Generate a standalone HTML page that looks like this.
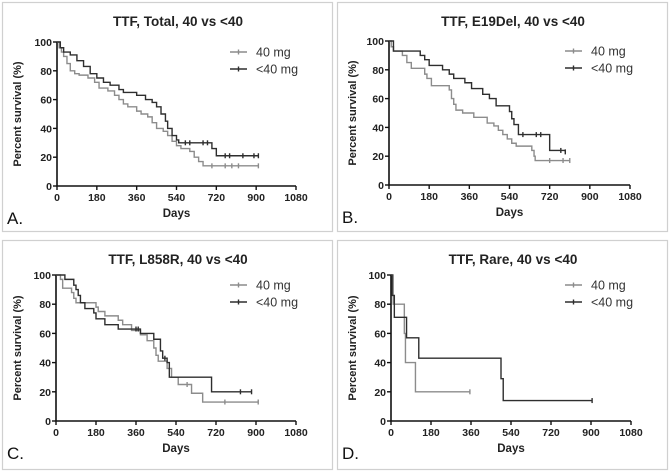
<!DOCTYPE html>
<html><head><meta charset="utf-8"><style>
html,body{margin:0;padding:0;background:#fff;}
svg{display:block;font-family:"Liberation Sans",Arial,sans-serif;}
</style></head><body>
<svg id="fig" width="670" height="476" viewBox="0 0 670 476" xmlns="http://www.w3.org/2000/svg"></svg>
<script>
// ---- data ----
const panelTitles = ["TTF, Total, 40 vs <40","TTF, E19Del, 40 vs <40","TTF, L858R, 40 vs <40","TTF, Rare, 40 vs <40"];
const panelLetters = ["A.","B.","C.","D."];
const xTicks = [0,180,360,540,720,900,1080];
const yTicks = [0,20,40,60,80,100];
const seriesNames = ["40 mg","<40 mg"];
// Panel A
const aHighT = [0,10,20,30,45,60,80,100,140,170,190,230,260,280,300,320,360,380,410,430,450,480,500,520,540,560,600,620,640,660,910];
const aHighS = [100,96,93,90,85,80,78,77,75,72,68,66,63,60,57,55,52,50,48,44,40,38,35,31,28,26,24,20,17,14,14];
const aHighC = [700,760,790,820,910];
const aLowT = [0,15,30,60,90,120,150,180,210,240,280,300,360,400,430,450,470,490,500,520,540,550,700,720,910];
const aLowS = [100,96,93,91,87,83,78,75,72,70,67,65,63,60,58,55,50,45,40,35,32,30,26,21,21];
const aLowC = [580,600,660,680,760,780,840,890,910];
// Panel B
const bHighT = [0,10,20,60,80,100,160,170,190,270,280,290,300,330,380,440,470,490,510,530,550,570,640,650,655,810];
const bHighS = [100,96,93,90,85,81,77,74,69,66,60,56,52,50,47,43,41,38,35,32,29,27,24,20,17,17];
const bHighC = [720,780,810];
const bLowT = [0,20,140,160,180,240,270,290,340,370,420,450,480,540,550,560,580,720,790];
const bLowS = [100,93,90,87,83,80,77,74,71,67,63,60,55,51,46,42,35,24,23];
const bLowC = [600,660,680,770,790];
// Panel C
const cHighT = [0,20,30,70,80,90,180,190,220,280,300,340,380,410,440,450,460,500,520,550,610,660,910];
const cHighS = [100,97,91,88,84,81,78,75,72,69,66,62,59,55,50,45,41,36,30,25,19,13,13];
const cHighC = [590,760,910];
const cLowT = [0,40,80,90,100,110,130,170,180,220,280,360,380,440,470,480,500,510,700,880];
const cLowS = [100,97,93,90,86,81,77,74,70,66,63,63,60,56,48,43,40,30,20,20];
const cLowC = [360,370,490,830,880];
// Panel D
const dHighT = [0,10,60,65,110,355];
const dHighS = [100,80,60,40,20,20];
const dHighC = [355];
const dLowT = [0,5,15,70,125,495,505,905];
const dLowS = [100,86,71,57,43,29,14,14];
const dLowC = [905];

const panels = [
 {ox:0,oy:0,x0:57,x1:296,y100:42,y0:186,data:[[aHighT,aHighS,aHighC],[aLowT,aLowS,aLowC]]},
 {ox:335,oy:0,x0:54,x1:295,y100:41,y0:185,data:[[bHighT,bHighS,bHighC],[bLowT,bLowS,bLowC]]},
 {ox:0,oy:238,x0:56,x1:296,y100:37,y0:183,data:[[cHighT,cHighS,cHighC],[cLowT,cLowS,cLowC]]},
 {ox:335,oy:238,x0:56,x1:296,y100:37,y0:183,data:[[dHighT,dHighS,dHighC],[dLowT,dLowS,dLowC]]}
];
const colors = ["#8c8c8c","#2e2e2e"];
const NS="http://www.w3.org/2000/svg";
const svg=document.getElementById('fig');
function mk(tag,attrs,parent){const e=document.createElementNS(NS,tag);for(const k in attrs)e.setAttribute(k,attrs[k]);(parent||svg).appendChild(e);return e;}

panels.forEach((p,i)=>{
  const g=mk('g',{transform:`translate(${p.ox},${p.oy})`});
  
  
  const sx=v=>p.x0+(v/1080)*(p.x1-p.x0);
  const sy=v=>p.y0-(v/100)*(p.y0-p.y100);
  const box=mk('rect',{x:2.5,y:2.5,width:330,height:229,fill:'none',stroke:'#d0d0d0','stroke-width':1.2},g);
  
  
  const t=mk('text',{x:178,y:p.oy?26:26,'text-anchor':'middle','font-size':13.5,'font-weight':'bold',fill:'#222'},g);
  t.textContent=panelTitles[i];
  
  
  // axes
  const ax=mk('path',{d:`M${p.x0},${p.y100}V${p.y0}H${p.x1}`,fill:'none',stroke:'#111','stroke-width':1.6},g);
  
  
  xTicks.forEach(v=>{
    mk('line',{x1:sx(v),x2:sx(v),y1:p.y0,y2:p.y0+4,stroke:'#111','stroke-width':1.4},g);
    const tl=mk('text',{x:sx(v),y:p.y0+15,'text-anchor':'middle','font-size':10.5,'font-weight':'bold',fill:'#222'},g);
    tl.textContent=v;
    
    
  });
  yTicks.forEach(v=>{
    mk('line',{x1:p.x0-4,x2:p.x0,y1:sy(v),y2:sy(v),stroke:'#111','stroke-width':1.4},g);
    const tl=mk('text',{x:p.x0-5,y:sy(v)+4,'text-anchor':'end','font-size':10.5,'font-weight':'bold',fill:'#222'},g);
    tl.textContent=v;
    
    
  });
  const xl=mk('text',{x:(p.x0+p.x1)/2,y:p.y0+31,'text-anchor':'middle','font-size':11.5,'font-weight':'bold',fill:'#222'},g);
  xl.textContent='Days';
  
  
  const ym=(p.y0+p.y100)/2;
  const yl=mk('text',{x:0,y:0,transform:`translate(21,${ym}) rotate(-90)`,'text-anchor':'middle','font-size':11,'font-weight':'bold',fill:'#222'},g);
  yl.textContent='Percent survival (%)';
  
  
  const lt=mk('text',{x:7,y:p.y0+38,'font-size':17,fill:'#111'},g);
  lt.textContent=panelLetters[i];
  
  
  // series
  p.data.forEach((s,k)=>{
    const [T,S,C]=s;
    let d=`M${sx(T[0])},${sy(S[0])}`;
    for(let j=1;j<T.length;j++){d+=`H${sx(T[j])}V${sy(S[j])}`;}
    const path=mk('path',{d,fill:'none',stroke:colors[k],'stroke-width':1.4},g);
    
    
    C.forEach(c=>{
      let sv=S[0];
      for(let j=0;j<T.length;j++){if(T[j]<=c)sv=S[j];}
      const m=mk('line',{x1:sx(c),x2:sx(c),y1:sy(sv)-2.5,y2:sy(sv)+2.5,stroke:colors[k],'stroke-width':1.4},g);
      
      
    });
    const ly=(p.y100+10)+k*17;
    const ll=mk('line',{x1:230,x2:247,y1:ly,y2:ly,stroke:colors[k],'stroke-width':1.4},g);
    
    
    mk('line',{x1:238.5,x2:238.5,y1:ly-2.5,y2:ly+2.5,stroke:colors[k],'stroke-width':1.4},g);
    const lx=mk('text',{x:256,y:ly+4.5,'font-size':12.5,fill:'#333'},g);
    lx.textContent=seriesNames[k];
    
    
  });
});
</script>
</body></html>
